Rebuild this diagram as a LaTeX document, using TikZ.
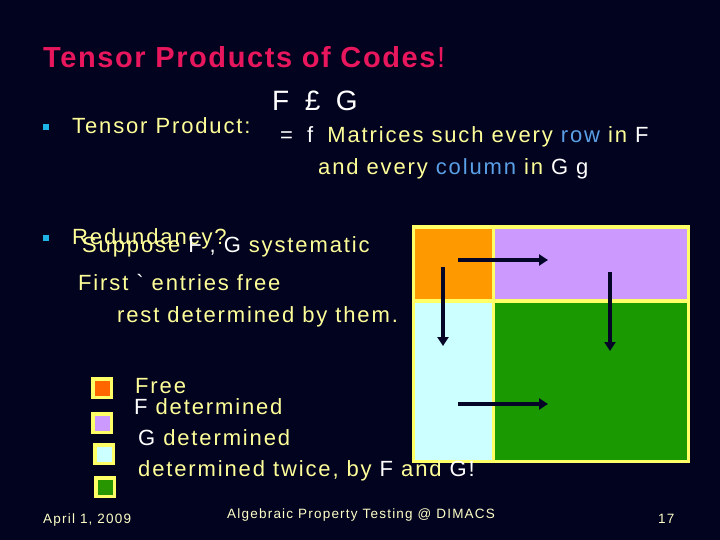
\documentclass[tikz,border=0pt]{standalone}
\usepackage{fontspec}
\setmainfont{Liberation Sans}
\newfontfamily\bodyfont[LetterSpace=8.5]{Liberation Sans}
\newfontfamily\titlefont[LetterSpace=5.5]{Liberation Sans}
\newfontfamily\footfont[LetterSpace=9]{Liberation Sans}
\usetikzlibrary{arrows.meta}
\definecolor{bg}{RGB}{2,3,30}
\definecolor{ttl}{RGB}{232,22,92}
\definecolor{ylw}{RGB}{255,255,153}
\definecolor{blu}{RGB}{90,160,230}
\definecolor{bul}{RGB}{30,180,230}
\definecolor{frame}{RGB}{255,255,102}
\definecolor{cor}{RGB}{255,153,0}
\definecolor{clav}{RGB}{204,153,255}
\definecolor{ccy}{RGB}{204,255,255}
\definecolor{cgr}{RGB}{26,153,0}
\definecolor{lor}{RGB}{255,102,0}
\definecolor{lgr}{RGB}{40,150,0}
\definecolor{arr}{RGB}{5,5,40}
\definecolor{foot}{RGB}{255,255,200}
\begin{document}
\begin{tikzpicture}[x=1pt,y=-1pt,
  txt/.style={anchor=base west, inner sep=0pt, text=ylw},
  body/.style={txt, font=\bodyfont\fontsize{22}{22}\selectfont},
  ftxt/.style={txt, text=foot, font=\footfont\fontsize{13.5}{13.5}\selectfont},
  cell/.style={anchor=north west, inner sep=0pt, outer sep=0pt},
  bulletsq/.style={fill=bul, minimum size=6pt, inner sep=0pt},
  legsq/.style={fill=frame, minimum size=22pt, inner sep=0pt},
  leginner/.style={minimum size=15pt, inner sep=0pt},
  flow/.style={draw=arr, line width=3.5pt, -{Triangle[length=9pt,width=11pt]}}]
\fill[bg] (0,0) rectangle (720,540);
\useasboundingbox (0,0) rectangle (720,540);
% title
\node[txt, text=ttl, font=\titlefont\fontsize{29}{29}\selectfont] (title) at (43,68) {\textbf{Tensor Products of Codes}!};
% bullets
\node[bulletsq] (b1) at (46,127) {};
\node[bulletsq] (b2) at (46,238) {};
% tensor product line
\node[body] (tp) at (72,134) {Tensor Product:};
\node[txt, text=white, font=\fontsize{28}{28}\selectfont] (fg) at (272,111) {F \;£\; G};
\node[body] (l1) at (280,143) {\textcolor{white}{=\; f}\; Matrices such every \textcolor{blu}{row} in \textcolor{white}{F}};
\node[body] (l2) at (318,175) {and every \textcolor{blu}{column} in \textcolor{white}{G g}};
% redundancy
\node[body] (red) at (72,244) {Redundancy?};
\node[body] (sup) at (82,252) {Suppose \textcolor{white}{F , G} systematic};
\node[body] (first) at (78,290) {First \textcolor{white}{`} entries free};
\node[body] (rest) at (117,322) {rest determined by them.};
% matrix
\fill[frame] (412,225) rectangle (690,463);
\node[cell, fill=cor, minimum width=77pt, minimum height=70pt] (free) at (415,229) {};
\node[cell, fill=clav, minimum width=192pt, minimum height=70pt] (fdet) at (495,229) {};
\node[cell, fill=ccy, minimum width=77pt, minimum height=157pt] (gdet) at (415,303) {};
\node[cell, fill=cgr, minimum width=192pt, minimum height=157pt] (twice) at (495,303) {};
\coordinate (a1s) at (458,260); \coordinate (a1e) at (548,260);
\coordinate (a2s) at (443,267); \coordinate (a2e) at (443,346);
\coordinate (a3s) at (610,272); \coordinate (a3e) at (610,351);
\coordinate (a4s) at (458,404); \coordinate (a4e) at (548,404);
\draw[flow] (a1s) -- (a1e);
\draw[flow] (a2s) -- (a2e);
\draw[flow] (a3s) -- (a3e);
\draw[flow] (a4s) -- (a4e);
% legend
\node[legsq] (s1) at (102,388) {};
\node[leginner, fill=lor] at (s1) {};
\node[legsq] (s2) at (102,423) {};
\node[leginner, fill=clav] at (s2) {};
\node[legsq] (s3) at (104,454) {};
\node[leginner, fill=ccy] at (s3) {};
\node[legsq] (s4) at (105,487) {};
\node[leginner, fill=lgr] at (s4) {};
\node[body] (t1) at (135,393) {Free};
\node[body] (t2) at (134,414) {\textcolor{white}{F} determined};
\node[body] (t3) at (138,445) {\textcolor{white}{G} determined};
\node[body] (t4) at (138,476) {determined twice, by \textcolor{white}{F} and \textcolor{white}{G!}};
% footer
\node[ftxt] (date) at (43,523) {April 1, 2009};
\node[ftxt] (conf) at (227,518) {Algebraic Property Testing @ DIMACS};
\node[ftxt] (pg) at (658,523) {17};
\end{tikzpicture}
\end{document}
